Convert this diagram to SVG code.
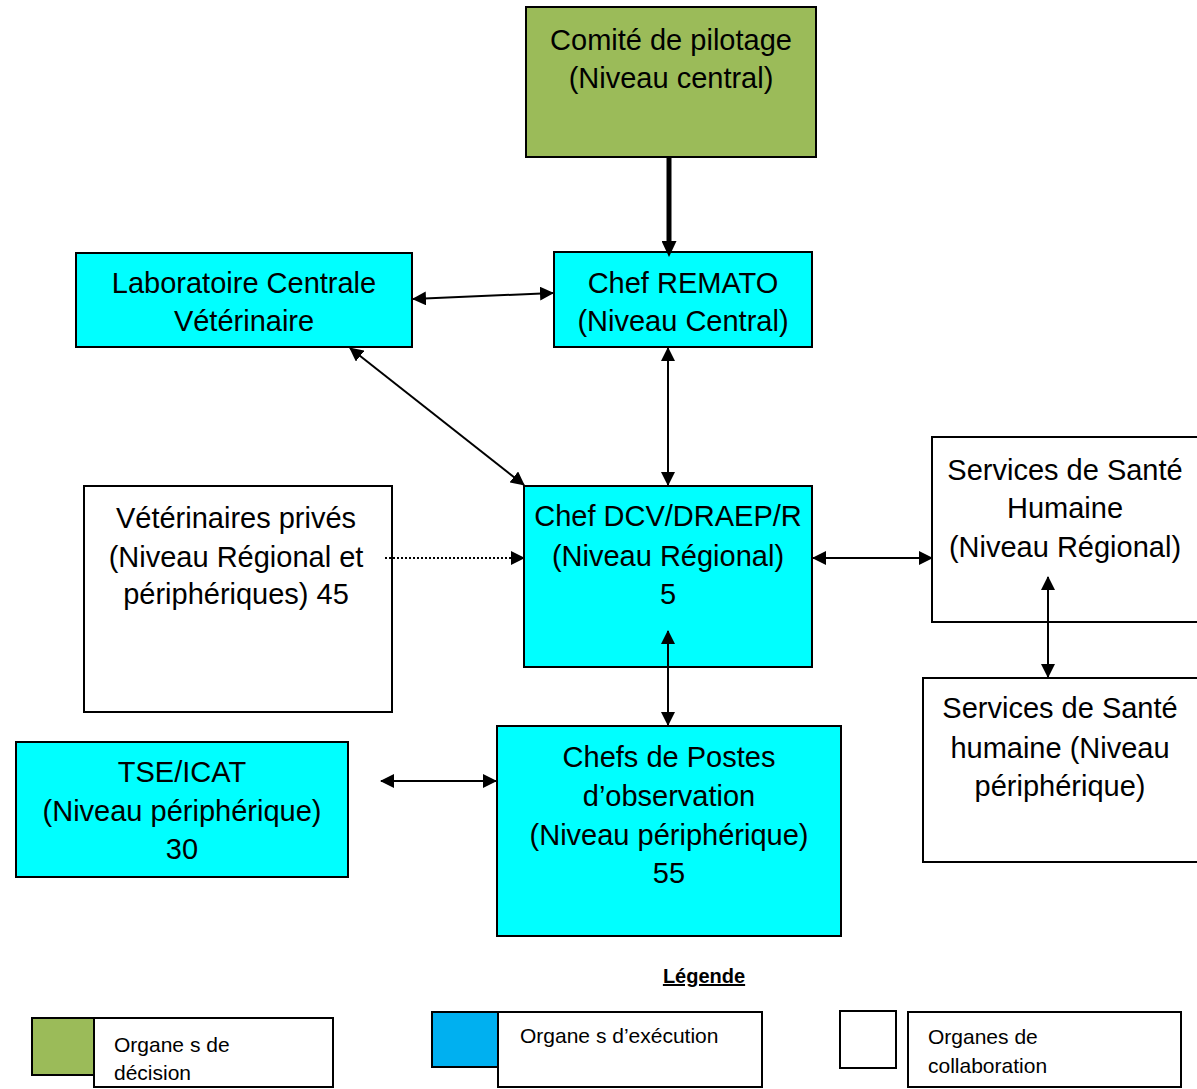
<svg xmlns="http://www.w3.org/2000/svg" width="1197" height="1089" viewBox="0 0 1197 1089">
<style>
  .box { stroke: #000; stroke-width: 2; }
  .dec { fill: #9BBB59; }
  .exe { fill: #00FFFF; }
  .col { fill: #FFFFFF; }
  .t { font-family: "Liberation Sans", Arial, sans-serif; font-size: 29px; fill: #000; text-anchor: middle; }
  .lt { font-family: "Liberation Sans", Arial, sans-serif; font-size: 21px; fill: #000; }
  .conn { stroke: #000; stroke-width: 2; fill: none; }
  .thick { stroke-width: 5; }
  .dot { stroke-dasharray: 2 2; }
</style>
<defs>
  <marker id="ah" viewBox="0 0 14 14" refX="13" refY="7" markerWidth="14" markerHeight="14" markerUnits="userSpaceOnUse" orient="auto-start-reverse">
    <path d="M0,0 L14,7 L0,14 z" fill="#000"/>
  </marker>
  <marker id="ahb" viewBox="0 0 16 15" refX="4" refY="7.5" markerWidth="16" markerHeight="15" markerUnits="userSpaceOnUse" orient="auto">
    <path d="M0,0 L16,7.5 L0,15 z" fill="#000"/>
  </marker>
</defs>
<rect width="1197" height="1089" fill="#FFFFFF"/>

<g id="comite">
  <rect class="box dec" x="526" y="7" width="290" height="150"/>
  <text class="t" x="671" y="50">Comité de pilotage</text>
  <text class="t" x="671" y="88">(Niveau central)</text>
</g>

<g id="remato">
  <rect class="box exe" x="554" y="252" width="258" height="95"/>
  <text class="t" x="683" y="293">Chef REMATO</text>
  <text class="t" x="683" y="331">(Niveau Central)</text>
</g>

<g id="labo">
  <rect class="box exe" x="76" y="253" width="336" height="94"/>
  <text class="t" x="244" y="293">Laboratoire Centrale</text>
  <text class="t" x="244" y="331">Vétérinaire</text>
</g>

<g id="dcv">
  <rect class="box exe" x="524" y="486" width="288" height="181"/>
  <text class="t" x="668" y="526">Chef DCV/DRAEP/R</text>
  <text class="t" x="668" y="566">(Niveau Régional)</text>
  <text class="t" x="668" y="604">5</text>
</g>

<g id="veterinaires">
  <rect class="box col" x="84" y="486" width="308" height="226"/>
  <text class="t" x="236" y="528">Vétérinaires privés</text>
  <text class="t" x="236" y="567">(Niveau Régional et</text>
  <text class="t" x="236" y="604">périphériques) 45</text>
</g>

<g id="ssh-regional">
  <rect class="box col" x="932" y="437" width="280" height="185"/>
  <text class="t" x="1065" y="480">Services de Santé</text>
  <text class="t" x="1065" y="518">Humaine</text>
  <text class="t" x="1065" y="557">(Niveau Régional)</text>
</g>

<g id="ssh-peripherique">
  <rect class="box col" x="923" y="678" width="290" height="184"/>
  <text class="t" x="1060" y="718">Services de Santé</text>
  <text class="t" x="1060" y="758">humaine (Niveau</text>
  <text class="t" x="1060" y="796">périphérique)</text>
</g>

<g id="chefs-postes">
  <rect class="box exe" x="497" y="726" width="344" height="210"/>
  <text class="t" x="669" y="767">Chefs de Postes</text>
  <text class="t" x="669" y="806">d’observation</text>
  <text class="t" x="669" y="845">(Niveau périphérique)</text>
  <text class="t" x="669" y="883">55</text>
</g>

<g id="tse">
  <rect class="box exe" x="16" y="742" width="332" height="135"/>
  <text class="t" x="182" y="782">TSE/ICAT</text>
  <text class="t" x="182" y="821">(Niveau périphérique)</text>
  <text class="t" x="182" y="859">30</text>
</g>

<g id="connectors">
  <line class="conn thick" x1="669" y1="157" x2="669" y2="245" marker-end="url(#ahb)"/>
  <line class="conn" x1="413" y1="299" x2="553" y2="293" marker-start="url(#ah)" marker-end="url(#ah)"/>
  <line class="conn" x1="350" y1="348" x2="524" y2="485" marker-start="url(#ah)" marker-end="url(#ah)"/>
  <line class="conn" x1="668" y1="348" x2="668" y2="485" marker-start="url(#ah)" marker-end="url(#ah)"/>
  <line class="conn" x1="813" y1="558" x2="932" y2="558" marker-start="url(#ah)" marker-end="url(#ah)"/>
  <line class="conn" x1="1048" y1="577" x2="1048" y2="677" marker-start="url(#ah)" marker-end="url(#ah)"/>
  <line class="conn" x1="668" y1="631" x2="668" y2="725" marker-start="url(#ah)" marker-end="url(#ah)"/>
  <line class="conn" x1="381" y1="781" x2="496" y2="781" marker-start="url(#ah)" marker-end="url(#ah)"/>
  <line class="conn dot" x1="385" y1="558" x2="524" y2="558" marker-end="url(#ah)"/>
</g>

<g id="legende">
  <text x="704" y="983" font-family="Liberation Sans, Arial, sans-serif" font-size="20" font-weight="bold" text-anchor="middle" text-decoration="underline">Légende</text>
  <rect class="box dec" x="32" y="1018" width="62" height="57"/>
  <rect class="box col" x="94" y="1018" width="239" height="69"/>
  <text class="lt" x="114" y="1052">Organe s de</text>
  <text class="lt" x="114" y="1080">décision</text>
  <rect class="box" fill="#00B0F0" x="432" y="1012" width="66" height="55"/>
  <rect class="box col" x="498" y="1012" width="264" height="75"/>
  <text class="lt" x="520" y="1043">Organe s d’exécution</text>
  <rect class="box col" x="840" y="1011" width="56" height="57"/>
  <rect class="box col" x="908" y="1012" width="273" height="75"/>
  <text class="lt" x="928" y="1044">Organes de</text>
  <text class="lt" x="928" y="1073">collaboration</text>
</g>
</svg>
